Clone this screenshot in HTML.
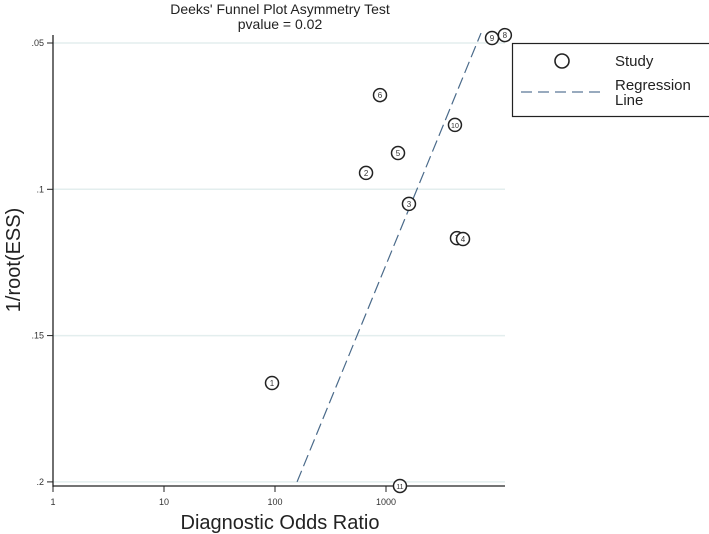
<!DOCTYPE html>
<html><head><meta charset="utf-8"><style>
body{margin:0;background:#fff;font-family:"Liberation Sans",Arial,sans-serif}
svg{display:block}
</style></head><body>
<svg id="chart" width="709" height="534" xmlns="http://www.w3.org/2000/svg">
<g id="grid"></g>
<g id="axes"></g>
<g id="reg"></g>
<g id="pts"></g>
<text x="280" y="14" text-anchor="middle" font-size="14" fill="#222">Deeks' Funnel Plot Asymmetry Test</text>
<text x="280" y="29" text-anchor="middle" font-size="14" fill="#222">pvalue =   0.02</text>
<text transform="translate(20,260) rotate(-90)" text-anchor="middle" font-size="20" fill="#222">1/root(ESS)</text>
<text x="280" y="529" text-anchor="middle" font-size="20" fill="#222">Diagnostic Odds Ratio</text>
<g>
<rect x="512.5" y="43.5" width="210" height="73" fill="#fff" stroke="#222" stroke-width="1.2"/>
<circle cx="562" cy="61" r="7" fill="none" stroke="#222" stroke-width="1.6"/>
<text x="615" y="66" font-size="15" fill="#222">Study</text>
<line x1="521" y1="92" x2="603" y2="92" stroke="#5a7896" stroke-width="1.2" stroke-dasharray="11,6"/>
<text x="615" y="90" font-size="15" fill="#222">Regression</text>
<text x="615" y="105" font-size="15" fill="#222">Line</text>
</g>
</svg>
<script>
const studyIds = ["1","2","3","7","4","5","6","9","8","10","11"];
const studyDOR = [94,661,1610,4360,4940,1283,883,9020,11770,4180,1336];
const studyESS = [0.1662,0.0944,0.105,0.1167,0.117,0.0876,0.0678,0.0483,0.0473,0.078,0.2014];
const regDOR = [158,7180];
const regESS = [0.2,0.0466];
const xTicks = [1,10,100,1000];
const xTickLabels = ["1","10","100","1000"];
const yTicks = [0.05,0.1,0.15,0.2];
const yTickLabels = [".05",".1",".15",".2"];

const NS="http://www.w3.org/2000/svg";
function xs(v){return 53+Math.log10(v)*111;}
function ys(v){return 43+(v-0.05)*2926;}
function mk(tag,attrs,parent){const e=document.createElementNS(NS,tag);for(const k in attrs)e.setAttribute(k,attrs[k]);parent.appendChild(e);return e;}
const grid=document.getElementById('grid'),axes=document.getElementById('axes'),reg=document.getElementById('reg'),pts=document.getElementById('pts');
yTicks.forEach((t,i)=>{
  const g=mk('line',{x1:53,x2:505,y1:ys(t),y2:ys(t),stroke:'#e3eeee','stroke-width':1.5},grid);
  
  
  const tk=mk('line',{x1:47,x2:53,y1:ys(t),y2:ys(t),stroke:'#222','stroke-width':1},axes);
  
  
  const tl=mk('text',{x:44,y:ys(t)+3,'text-anchor':'end','font-size':9,fill:'#333'},axes);
  tl.textContent=yTickLabels[i];
  
  
});
const ya=mk('line',{x1:53,x2:53,y1:35,y2:487,stroke:'#222','stroke-width':1.3},axes);


const xa=mk('line',{x1:53,x2:505,y1:486,y2:486,stroke:'#222','stroke-width':1.3},axes);


xTicks.forEach((t,i)=>{
  const tk=mk('line',{x1:xs(t),x2:xs(t),y1:486,y2:492,stroke:'#222','stroke-width':1},axes);
  
  
  const tl=mk('text',{x:xs(t),y:505,'text-anchor':'middle','font-size':9,fill:'#333'},axes);
  tl.textContent=xTickLabels[i];
  
  
});
const rl=mk('line',{x1:xs(regDOR[0]),y1:ys(regESS[0]),x2:xs(regDOR[1]),y2:ys(regESS[1]),stroke:'#4a6a8a','stroke-width':1.2,'stroke-dasharray':'12,5'},reg);


studyDOR.forEach((d,i)=>{
  const g=mk('g',{},pts);
  
  
  mk('circle',{cx:xs(d),cy:ys(studyESS[i]),r:6.5,fill:'#fff',stroke:'#222','stroke-width':1.5},g);
  const t=mk('text',{x:xs(d),y:ys(studyESS[i])+3,'text-anchor':'middle','font-size':studyIds[i].length>1?7:8,fill:'#333'},g);
  t.textContent=studyIds[i];
});
</script>
</body></html>
